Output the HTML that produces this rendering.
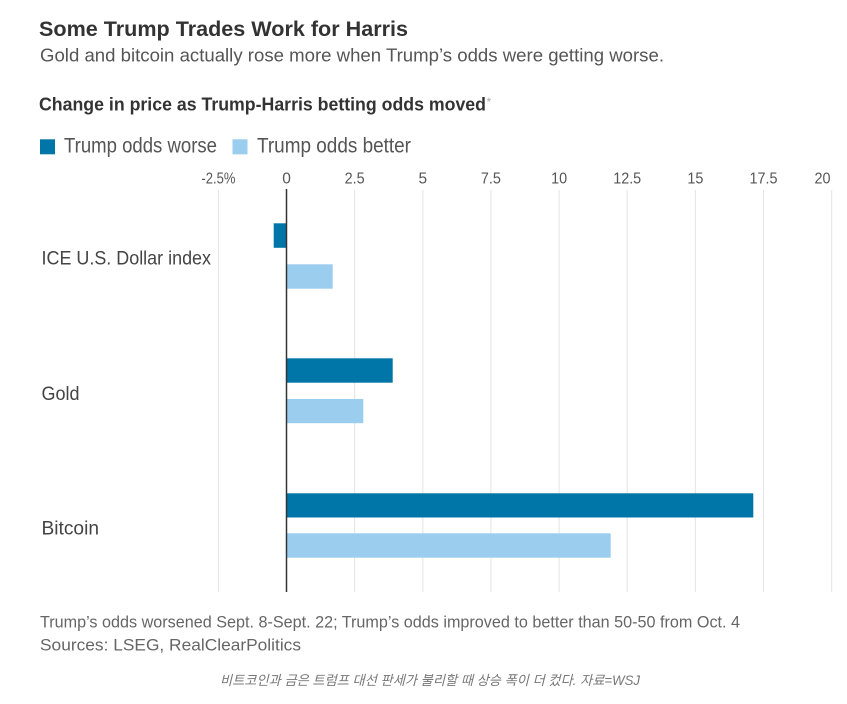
<!DOCTYPE html>
<html>
<head>
<meta charset="utf-8">
<style>
  html, body { margin:0; padding:0; background:#ffffff; }
  body { width:847px; height:704px; overflow:hidden; }
  svg { display:block; }
  text { font-family: "Liberation Sans", "Noto Sans CJK KR", sans-serif; }
</style>
</head>
<body>
<svg width="847" height="704" viewBox="0 0 847 704" xmlns="http://www.w3.org/2000/svg">
  <rect x="0" y="0" width="847" height="704" fill="#ffffff"/>

  <!-- Titles -->
  <text x="39" y="36" font-size="21" font-weight="bold" fill="#333333" textLength="369" lengthAdjust="spacingAndGlyphs">Some Trump Trades Work for Harris</text>
  <text x="40" y="61.5" font-size="18.5" fill="#555555" textLength="624" lengthAdjust="spacingAndGlyphs">Gold and bitcoin actually rose more when Trump’s odds were getting worse.</text>
  <text x="39" y="110.5" font-size="18.5" font-weight="bold" fill="#333333" textLength="447" lengthAdjust="spacingAndGlyphs">Change in price as Trump-Harris betting odds moved</text>
  <text x="486.5" y="106" font-size="12" fill="#aaaaaa">*</text>

  <!-- Legend -->
  <rect x="40" y="139.3" width="15" height="15" fill="#0076a8"/>
  <text x="64" y="152.7" font-size="21" fill="#555555" textLength="153" lengthAdjust="spacingAndGlyphs">Trump odds worse</text>
  <rect x="232.5" y="139.3" width="15" height="15" fill="#9bcdef"/>
  <text x="257" y="152.7" font-size="21" fill="#555555" textLength="154" lengthAdjust="spacingAndGlyphs">Trump odds better</text>

  <!-- Gridlines -->
  <g stroke="#e3e3e3" stroke-width="1">
    <line x1="218.4" y1="190" x2="218.4" y2="592"/>
    <line x1="354.6" y1="190" x2="354.6" y2="592"/>
    <line x1="422.8" y1="190" x2="422.8" y2="592"/>
    <line x1="490.9" y1="190" x2="490.9" y2="592"/>
    <line x1="559.1" y1="190" x2="559.1" y2="592"/>
    <line x1="627.2" y1="190" x2="627.2" y2="592"/>
    <line x1="695.4" y1="190" x2="695.4" y2="592"/>
    <line x1="763.5" y1="190" x2="763.5" y2="592"/>
    <line x1="831.7" y1="190" x2="831.7" y2="592"/>
  </g>

  <!-- Tick labels -->
  <g font-size="15.5" fill="#555555" text-anchor="middle">
    <text x="218.4" y="183.3" textLength="34" lengthAdjust="spacingAndGlyphs">-2.5%</text>
    <text x="286.5" y="183.3">0</text>
    <text x="354.6" y="183.3" textLength="20" lengthAdjust="spacingAndGlyphs">2.5</text>
    <text x="422.8" y="183.3">5</text>
    <text x="490.9" y="183.3" textLength="20" lengthAdjust="spacingAndGlyphs">7.5</text>
    <text x="559.1" y="183.3" textLength="16" lengthAdjust="spacingAndGlyphs">10</text>
    <text x="627.2" y="183.3" textLength="28" lengthAdjust="spacingAndGlyphs">12.5</text>
    <text x="695.4" y="183.3" textLength="16" lengthAdjust="spacingAndGlyphs">15</text>
    <text x="763.5" y="183.3" textLength="28" lengthAdjust="spacingAndGlyphs">17.5</text>
    <text x="830.5" y="183.3" text-anchor="end" textLength="16" lengthAdjust="spacingAndGlyphs">20</text>
  </g>

  <!-- Bars -->
  <rect x="273.7" y="223.3" width="12.8" height="24.5" fill="#0076a8"/>
  <rect x="286.5" y="264.3" width="46.2" height="24.4" fill="#9bcdef"/>
  <rect x="286.5" y="358.3" width="106.2" height="24.4" fill="#0076a8"/>
  <rect x="286.5" y="399" width="76.8" height="24.2" fill="#9bcdef"/>
  <rect x="286.5" y="493.3" width="466.8" height="24.2" fill="#0076a8"/>
  <rect x="286.5" y="533.3" width="324.2" height="24.4" fill="#9bcdef"/>

  <!-- Zero line -->
  <line x1="286.5" y1="189" x2="286.5" y2="592" stroke="#333333" stroke-width="1.5"/>

  <!-- Category labels -->
  <g font-size="19.5" fill="#444444">
    <text x="41.5" y="264.7" textLength="169.5" lengthAdjust="spacingAndGlyphs">ICE U.S. Dollar index</text>
    <text x="41.5" y="400" textLength="38" lengthAdjust="spacingAndGlyphs">Gold</text>
    <text x="41.5" y="534.3" textLength="57.5" lengthAdjust="spacingAndGlyphs">Bitcoin</text>
  </g>

  <!-- Footnotes -->
  <text x="40" y="627.7" font-size="17" fill="#666666" textLength="700" lengthAdjust="spacingAndGlyphs">Trump’s odds worsened Sept. 8-Sept. 22; Trump’s odds improved to better than 50-50 from Oct. 4</text>
  <text x="40" y="650.7" font-size="17" fill="#666666" textLength="261" lengthAdjust="spacingAndGlyphs">Sources: LSEG, RealClearPolitics</text>

  <!-- Korean caption -->
  <text x="220" y="685" font-size="13.5" font-style="italic" fill="#777777" textLength="420" lengthAdjust="spacingAndGlyphs">비트코인과 금은 트럼프 대선 판세가 불리할 때 상승 폭이 더 컸다. 자료=WSJ</text>
</svg>
</body>
</html>
